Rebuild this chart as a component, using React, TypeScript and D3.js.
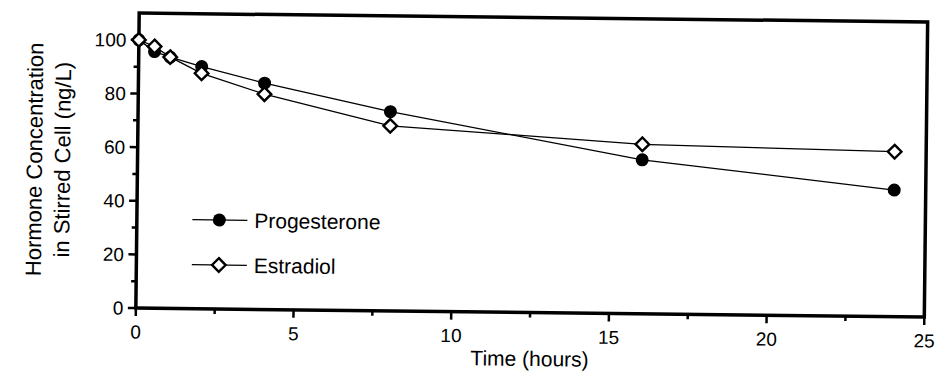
import React, { useRef, useEffect } from 'react';
import * as d3 from 'd3';

// sampling times (hours) and measured concentrations (ng/L)
const times = [0, 0.5, 1, 2, 4, 8, 16, 24];
const progesterone = [100, 95.7, 93.7, 90.3, 84.4, 74.3, 57.4, 47.2];
const estradiol = [100, 97.6, 93.7, 87.8, 80.3, 69.0, 63.2, 61.5];

const xTicks = [0, 5, 10, 15, 20, 25];
const xMinorTicks = [2.5, 7.5, 12.5, 17.5, 22.5];
const yTicks = [0, 20, 40, 60, 80, 100];
const yMinorTicks = [10, 30, 50, 70, 90];

const seriesNames = ['Progesterone', 'Estradiol'];

const FONT = '"Liberation Sans", Arial, Helvetica, sans-serif';

const App: React.FC = () => {
  const svgRef = useRef<SVGSVGElement | null>(null);

  useEffect(() => {
    if (!svgRef.current) return;
    const width = 937;
    const height = 371;
    const margin = { left: 137.5, right: 11, top: 17.5, bottom: 58.5 };

    const svg = d3.select(svgRef.current);
    svg.selectAll('*').remove();
    svg.attr('width', width).attr('height', height);

    // the scanned original sits slightly rotated, keep that
    const g = svg.append('g').attr('transform', 'rotate(0.65, 530, 165)');

    const x = d3.scaleLinear().domain([0, 25]).range([margin.left, width - margin.right]);
    const y = d3.scaleLinear().domain([0, 110]).range([height - margin.bottom, margin.top]);

    const x0 = x(0), x1 = x(25), y0 = y(0), y1 = y(110);

    // frame
    g.append('rect')
      .attr('x', x0)
      .attr('y', y1)
      .attr('width', x1 - x0)
      .attr('height', y0 - y1)
      .attr('fill', 'none')
      .attr('stroke', '#000')
      .attr('stroke-width', 3.5);

    // x ticks
    g.selectAll('.xt')
      .data(xTicks)
      .enter().append('line')
      .attr('x1', d => x(d)).attr('x2', d => x(d))
      .attr('y1', y0).attr('y2', y0 + 8)
      .attr('stroke', '#000').attr('stroke-width', 2.5);
    g.selectAll('.xm')
      .data(xMinorTicks)
      .enter().append('line')
      .attr('x1', d => x(d)).attr('x2', d => x(d))
      .attr('y1', y0).attr('y2', y0 + 5)
      .attr('stroke', '#000').attr('stroke-width', 2.5);
    g.selectAll('.xl')
      .data(xTicks)
      .enter().append('text')
      .attr('x', d => x(d))
      .attr('y', 343)
      .attr('text-anchor', 'middle')
      .style('font', `19px ${FONT}`)
      .text(d => d);

    // y ticks
    g.selectAll('.yt')
      .data(yTicks)
      .enter().append('line')
      .attr('x1', x0 - 8).attr('x2', x0)
      .attr('y1', d => y(d)).attr('y2', d => y(d))
      .attr('stroke', '#000').attr('stroke-width', 2.5);
    g.selectAll('.ym')
      .data(yMinorTicks)
      .enter().append('line')
      .attr('x1', x0 - 5).attr('x2', x0)
      .attr('y1', d => y(d)).attr('y2', d => y(d))
      .attr('stroke', '#000').attr('stroke-width', 2.5);
    g.selectAll('.yl')
      .data(yTicks)
      .enter().append('text')
      .attr('x', x0 - 12.5)
      .attr('y', d => y(d))
      .attr('dy', '0.36em')
      .attr('text-anchor', 'end')
      .style('font', `19px ${FONT}`)
      .text(d => d);

    // axis titles
    g.append('text')
      .attr('x', (x0 + x1) / 2)
      .attr('y', 366)
      .attr('text-anchor', 'middle')
      .style('font', `21px ${FONT}`)
      .text('Time (hours)');

    const yMid = (y0 + y1) / 2;
    const yTitle = g.append('text')
      .attr('transform', `translate(0,${yMid}) rotate(-90)`)
      .attr('text-anchor', 'middle')
      .style('font', `22px ${FONT}`);
    yTitle.append('tspan').attr('x', 0).attr('y', 42).text('Hormone Concentration');
    yTitle.append('tspan').attr('x', 0).attr('y', 70).text('in Stirred Cell (ng/L)');

    const line = d3.line<[number, number]>()
      .x(d => x(d[0]))
      .y(d => y(d[1]));

    const progPts = times.map((t, i) => [t, progesterone[i]] as [number, number]);
    const estPts = times.map((t, i) => [t, estradiol[i]] as [number, number]);

    g.append('path').attr('d', line(progPts)).attr('fill', 'none').attr('stroke', '#000').attr('stroke-width', 1.3);
    g.append('path').attr('d', line(estPts)).attr('fill', 'none').attr('stroke', '#000').attr('stroke-width', 1.3);

    const diamond = (r: number) => `M0,${-r}L${r},0L0,${r}L${-r},0Z`;

    g.selectAll('.prog')
      .data(progPts)
      .enter().append('circle')
      .attr('cx', d => x(d[0]))
      .attr('cy', d => y(d[1]))
      .attr('r', 6.5)
      .attr('fill', '#000');

    g.selectAll('.est')
      .data(estPts)
      .enter().append('path')
      .attr('transform', d => `translate(${x(d[0])},${y(d[1])})`)
      .attr('d', diamond(6.8))
      .attr('fill', '#fff')
      .attr('stroke', '#000')
      .attr('stroke-width', 2.4);

    // legend
    const legend = g.selectAll('.legend')
      .data(seriesNames)
      .enter().append('g')
      .attr('transform', (d, i) => `translate(220,${223.5 + i * 45})`);

    legend.append('line')
      .attr('x1', -27).attr('x2', 28)
      .attr('stroke', '#000').attr('stroke-width', 1.3);
    legend.filter((d, i) => i === 0).append('circle').attr('r', 6.5).attr('fill', '#000');
    legend.filter((d, i) => i === 1).append('path')
      .attr('d', diamond(6.8))
      .attr('fill', '#fff').attr('stroke', '#000').attr('stroke-width', 2.4);
    legend.append('text')
      .attr('x', 35)
      .attr('dy', '0.36em')
      .style('font', `21px ${FONT}`)
      .text(d => d);
  }, []);

  return (
    <div style={{ position: 'absolute', left: 0, top: 0, width: 937, height: 371, background: '#fff' }}>
      <svg ref={svgRef} />
    </div>
  );
};

export default App;
